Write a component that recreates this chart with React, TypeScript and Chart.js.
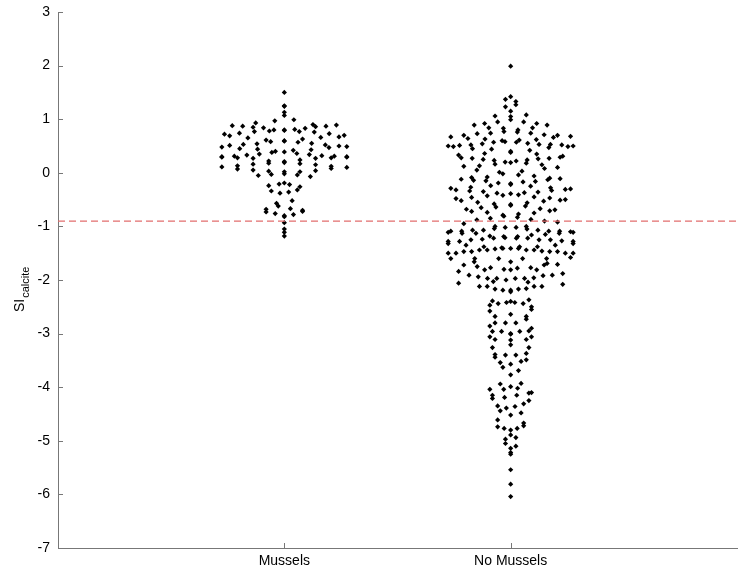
import React, { useEffect, useRef } from 'react';
import { Chart, registerables } from 'chart.js';

Chart.register(...registerables);

// ---------------- data ----------------
const categories = ['Mussels', 'No Mussels'];

const musselsSI = [
  1.50, 1.25, 1.24, 1.13, 1.07, 0.99, 0.97,
  0.93, 0.90, 0.89, 0.88, 0.87, 0.87, 0.86, 0.85, 0.84, 0.83, 0.81, 0.80, 0.80,
  0.79, 0.78, 0.77, 0.77, 0.76, 0.74, 0.73, 0.72, 0.70, 0.69, 0.67, 0.66, 0.65, 0.63, 0.61,
  0.60, 0.59, 0.58, 0.57, 0.55, 0.54, 0.53, 0.52, 0.51, 0.50, 0.49, 0.48, 0.47, 0.45, 0.44, 0.43, 0.42, 0.40,
  0.39, 0.38, 0.36, 0.35, 0.34, 0.33, 0.32, 0.31, 0.31, 0.30, 0.30, 0.29, 0.29, 0.28, 0.28, 0.27, 0.27, 0.24, 0.22, 0.21,
  0.19, 0.18, 0.17, 0.16, 0.15, 0.13, 0.12, 0.11, 0.10, 0.08, 0.07, 0.05, 0.04, 0.03, 0.02, 0.02,
  -0.02, -0.03, -0.04, -0.05, -0.07, -0.19,
  -0.21, -0.22, -0.24, -0.26, -0.32, -0.34, -0.36, -0.38,
  -0.52, -0.57, -0.62, -0.67, -0.68, -0.70, -0.72, -0.73, -0.76, -0.78,
  -0.80, -0.82, -0.93, -1.05, -1.11, -1.18,
];

const noMusselsSI = [
  1.99, 1.42, 1.37, 1.33, 1.27, 1.23, 1.15, 1.08, 1.06, 1.05, 0.99, 0.95, 0.95, 0.92, 0.92,
  0.89, 0.89, 0.84, 0.84, 0.83, 0.80,
  0.77, 0.76, 0.74, 0.74, 0.73, 0.71, 0.70, 0.70, 0.68, 0.67, 0.66, 0.64, 0.63, 0.62, 0.61,
  0.60, 0.58, 0.57, 0.57, 0.55, 0.54, 0.53, 0.53, 0.52, 0.52,
  0.51, 0.50, 0.50, 0.49, 0.49,
  0.47, 0.45, 0.44, 0.42, 0.40, 0.38, 0.36, 0.35, 0.33, 0.31,
  0.29, 0.28, 0.27, 0.27, 0.26, 0.25, 0.24, 0.23, 0.22, 0.20, 0.19, 0.18, 0.16, 0.15, 0.13, 0.12,
  0.10, 0.08, 0.05, 0.03, 0.01, -0.02, -0.04, -0.06,
  -0.08, -0.09, -0.10, -0.11, -0.12, -0.13, -0.14, -0.15, -0.16, -0.17, -0.19, -0.20, -0.22, -0.24, -0.25,
  -0.27, -0.28, -0.29, -0.30, -0.31, -0.32, -0.33, -0.34, -0.35, -0.36, -0.37, -0.38, -0.39, -0.41, -0.42, -0.43,
  -0.45, -0.46, -0.47, -0.48, -0.50, -0.51, -0.52, -0.53, -0.55, -0.56, -0.58, -0.59, -0.61, -0.62,
  -0.64, -0.65, -0.67, -0.68, -0.69, -0.71, -0.72, -0.74, -0.75, -0.77, -0.79, -0.81,
  -0.83, -0.85, -0.87, -0.88, -0.90, -0.92, -0.95,
  -1.09, -1.15, -1.11, -1.13, -1.05, -1.07, -1.11, -1.02, -1.07, -1.02, -1.09, -1.09, -1.13, -1.07,
  -1.04, -1.10, -1.00, -1.13, -1.00, -1.16, -1.09,
  -1.25, -1.28, -1.24, -1.21, -1.18, -1.32, -1.22, -1.28, -1.25, -1.32, -1.25, -1.19, -1.22, -1.28,
  -1.22, -1.27, -1.19, -1.35,
  -1.44, -1.40, -1.46, -1.50, -1.41, -1.47, -1.50, -1.38, -1.44, -1.38, -1.38, -1.42, -1.44, -1.50,
  -1.47, -1.41, -1.47, -1.50, -1.35, -1.41, -1.47, -1.44, -1.60, -1.60, -1.60, -1.60, -1.58, -1.60,
  -1.81, -1.81, -1.78, -1.77, -1.71, -1.66, -1.72, -1.77, -1.69, -1.66, -1.75, -1.72, -1.80, -1.81,
  -1.96, -1.91, -2.06, -2.00, -1.84, -1.88, -1.92, -1.97, -2.03, -1.97, -1.91, -1.97, -2.08, -1.97, -2.04, -1.94,
  -2.16, -2.17, -2.12, -2.19, -2.12, -2.12, -2.17, -2.22, -2.19, -2.12,
  -2.37, -2.39, -2.42, -2.42, -2.44, -2.50, -2.47, -2.44, -2.40,
  -2.55, -2.58, -2.64,
  -2.80, -2.68, -2.73, -2.80, -2.86, -2.90, -2.68, -2.80,
  -2.96, -3.06, -2.95, -3.00, -3.11, -3.11, -3.21, -2.96, -3.01, -3.12, -2.96, -3.06,
  -3.26, -3.39, -3.40, -3.44, -3.52, -3.57, -3.26, -3.37, -3.49, -3.54, -3.40,
  -3.63, -3.69, -3.77,
  -3.93, -3.94, -3.99,
  -4.04, -4.15, -4.04, -4.10, -4.15, -4.02, -4.11,
  -4.19, -4.25, -4.36, -4.21, -4.31, -4.39, -4.35,
  -4.44, -4.48, -4.52, -4.61, -4.67, -4.77, -4.72, -4.74, -4.77, -4.80,
  -4.89, -4.94, -4.97, -5.05, -5.10, -5.14, -5.22, -5.25, -5.54, -5.81, -6.04,
];

const thresholdSI = -0.9;
const yTickValues = [-7, -6, -5, -4, -3, -2, -1, 0, 1, 2, 3];
const xTickValues = [1, 2];

// --------------- spread layout (plotSpread-like) ---------------
// Points are binned along y; each bin's points are spread horizontally over a
// width that grows with the local density of values around that bin.
function spreadPoints(values: number[], center: number) {
  const binHeight = 0.1;
  const window = 0.15;
  const perPoint = 0.0115;
  const maxHalf = 0.276;
  const bins = new Map<number, number[]>();
  values.forEach((v) => {
    const b = Math.floor(v / binHeight + 1e-9);
    if (!bins.has(b)) bins.set(b, []);
    bins.get(b)!.push(v);
  });
  const pts: { x: number; y: number }[] = [];
  bins.forEach((arr, b) => {
    const mid = (b + 0.5) * binHeight;
    const local = values.filter((v) => Math.abs(v - mid) <= window).length;
    const half = Math.min(maxHalf, Math.max(0, (local - 3) * perPoint));
    const sorted = [...arr].sort((a, c) => a - c);
    const n = sorted.length;
    if (n === 1) {
      pts.push({ x: center, y: sorted[0] });
      return;
    }
    const offsets: number[] = [];
    for (let k = 0; k < n; k++) offsets.push(-half + (2 * half * k) / (n - 1));
    let order = offsets
      .map((o, i) => ({ o, i }))
      .sort((p, q) => Math.abs(p.o) - Math.abs(q.o) || p.o - q.o)
      .map((e) => e.i);
    if (Math.abs(b) % 2 === 1) order = order.reverse();
    sorted.forEach((v, i) => pts.push({ x: center + offsets[order[i]], y: v }));
  });
  return pts;
}

const FONT = '"Liberation Sans", Arial, Helvetica, sans-serif';
const AXIS_COLOR = '#777777';

const innerTicks = {
  id: 'innerTicks',
  afterDraw(chart: any) {
    const { ctx, chartArea, scales } = chart;
    ctx.save();
    ctx.strokeStyle = AXIS_COLOR;
    ctx.lineWidth = 1;
    ctx.beginPath();
    yTickValues.forEach((v) => {
      const y = Math.round(scales.y.getPixelForValue(v)) + 0.5;
      ctx.moveTo(chartArea.left, y);
      ctx.lineTo(chartArea.left + 5, y);
    });
    xTickValues.forEach((v) => {
      const x = Math.round(scales.x.getPixelForValue(v)) + 0.5;
      ctx.moveTo(x, chartArea.bottom);
      ctx.lineTo(x, chartArea.bottom - 5);
    });
    ctx.stroke();

    // y axis title: SI with subscript "calcite"
    ctx.fillStyle = '#000';
    ctx.translate(24, 312);
    ctx.rotate(-Math.PI / 2);
    ctx.textAlign = 'left';
    ctx.textBaseline = 'alphabetic';
    ctx.font = `14px ${FONT}`;
    ctx.fillText('SI', 0, 0);
    const w = ctx.measureText('SI').width;
    ctx.font = `11px ${FONT}`;
    ctx.fillText('calcite', w + 1, 5);
    ctx.restore();
  },
};

export default function App() {
  const ref = useRef<HTMLCanvasElement | null>(null);

  useEffect(() => {
    document.body.style.margin = '0';
    if (!ref.current) return;
    const pointStyle = {
      pointStyle: 'rectRot',
      pointRadius: 2.6,
      pointBackgroundColor: '#000',
      pointBorderWidth: 0,
      order: 2,
    };
    const chart = new Chart(ref.current, {
      type: 'scatter',
      data: {
        datasets: [
          { label: categories[0], data: spreadPoints(musselsSI, 1), ...pointStyle } as any,
          { label: categories[1], data: spreadPoints(noMusselsSI, 2), ...pointStyle } as any,
          {
            type: 'line',
            label: 'threshold',
            data: [
              { x: 0, y: thresholdSI },
              { x: 3, y: thresholdSI },
            ],
            borderColor: 'rgb(226,110,110)',
            borderWidth: 1.2,
            borderDash: [7, 4],
            pointRadius: 0,
            order: 1,
          } as any,
        ],
      },
      options: {
        animation: false,
        responsive: false,
        maintainAspectRatio: false,
        layout: { padding: { top: 12, right: 0, left: 0, bottom: 0 } },
        plugins: { legend: { display: false }, tooltip: { enabled: false } },
        scales: {
          x: {
            type: 'linear',
            min: 0,
            max: 3,
            afterBuildTicks: (s: any) => {
              s.ticks = xTickValues.map((v) => ({ value: v }));
            },
            afterFit: (s: any) => {
              s.height = 27;
              s.paddingLeft = 0;
              s.paddingRight = 0;
            },
            ticks: {
              callback: (v: any) => categories[Number(v) - 1] ?? '',
              font: { family: FONT, size: 14 },
              color: '#000',
              padding: 5,
              maxRotation: 0,
              autoSkip: false,
            },
            grid: { display: false, drawTicks: false },
            border: { display: true, color: AXIS_COLOR, width: 1 },
          },
          y: {
            type: 'linear',
            min: -7,
            max: 3,
            afterBuildTicks: (s: any) => {
              s.ticks = yTickValues.map((v) => ({ value: v }));
            },
            afterFit: (s: any) => {
              s.width = 58;
              s.paddingTop = 0;
              s.paddingBottom = 0;
            },
            ticks: {
              font: { family: FONT, size: 14 },
              color: '#000',
              padding: 8,
            },
            grid: { display: false, drawTicks: false },
            border: { display: true, color: AXIS_COLOR, width: 1 },
          },
        },
      },
      plugins: [innerTicks],
    });
    return () => chart.destroy();
  }, []);

  return (
    <div style={{ width: 741, height: 575, background: '#fff' }}>
      <canvas ref={ref} width={741} height={575} style={{ display: 'block' }} />
    </div>
  );
}
